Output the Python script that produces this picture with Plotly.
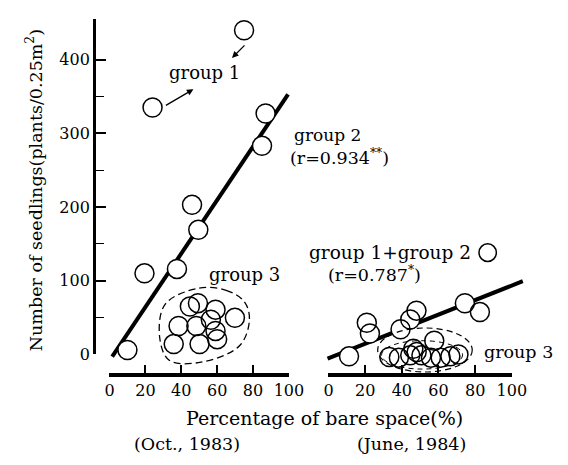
import plotly.graph_objects as go

W, H = 568, 465
FONT = "DejaVu Serif"

# ---------------- data ----------------
# Oct. 1983 (left panel)
g1_x = [75, 24]
g1_y = [440, 335]
g2_x = [87, 85, 46, 49.5, 37.6, 19.5, 10]
g2_y = [327, 283, 203, 169, 116, 110, 6]
g3_x = [44.8, 49.3, 59.1, 69.9, 38.5, 48.4, 56.5, 59.1, 35.8, 50.2, 60.0]
g3_y = [65, 69.5, 60.7, 49.6, 38.5, 38.5, 47, 31.9, 14, 14, 20.7]
fit83_x = [1.5, 99.5]
fit83_y = [-3, 353]

# June 1984 (right panel)
g12_84_x = [11.2, 20.9, 22.6, 39.3, 44.6, 48.0, 74.4, 82.6]
g12_84_y = [8, 53.5, 38.9, 44.8, 58, 70, 80, 68]
g3_84_x = [33.2, 38.4, 44.6, 46.3, 48.1, 50.7, 55.9, 57.7, 61.2, 66.5, 70.9]
g3_84_y = [7, 6.2, 9.3, 18.2, 13.7, 9.3, 6.2, 29.2, 6.2, 8, 10.6]
fit84_x = [-0.5, 106]
fit84_y = [5, 110]

x_ticks = [0, 20, 40, 60, 80, 100]
y_ticks = [0, 100, 200, 300, 400]

# ---------------- geometry helpers ----------------
def px(x):
    return x / W

def py(y):
    return 1 - y / H

# left panel scale
LX0, LXS = 100, 1.86      # px of x=0, px per unit
LY0, LYS = 354, 0.753     # px of y=0, px per unit
# right panel scale
RX0, RXS = 327, 1.9
RY0, RYS = 362, 0.753

fig = go.Figure()

def add_points(xs, ys, xa, ya):
    # white disc to mask the regression line, then outline on top
    fig.add_trace(go.Scatter(x=xs, y=ys, xaxis=xa, yaxis=ya, mode="markers",
                             marker=dict(size=19, color="white", line=dict(width=0)),
                             hoverinfo="skip", showlegend=False, cliponaxis=False))

def add_outlines(xs, ys, xa, ya):
    fig.add_trace(go.Scatter(x=xs, y=ys, xaxis=xa, yaxis=ya, mode="markers",
                             marker=dict(size=19, symbol="circle-open", color="black",
                                         line=dict(width=1.5, color="black")),
                             hoverinfo="skip", showlegend=False, cliponaxis=False))

# left panel
fig.add_trace(go.Scatter(x=fit83_x, y=fit83_y, xaxis="x", yaxis="y", mode="lines",
                         line=dict(color="black", width=4), hoverinfo="skip", showlegend=False))
# group 3 dashed outline
out_x = [50, 65, 75, 78, 72.6, 51, 33.3, 28, 31, 50]
out_y = [90, 87, 72, 48, 12, -10.6, -8, 22.6, 68, 90]
fig.add_trace(go.Scatter(x=out_x, y=out_y, xaxis="x", yaxis="y", mode="lines",
                         line=dict(color="black", width=1.3, dash="7px,4px", shape="spline", smoothing=1.0),
                         hoverinfo="skip", showlegend=False))
lx = g1_x + g2_x + g3_x
ly = g1_y + g2_y + g3_y
add_points(lx, ly, "x", "y")
add_outlines(lx, ly, "x", "y")

# right panel
fig.add_trace(go.Scatter(x=fit84_x, y=fit84_y, xaxis="x2", yaxis="y2", mode="lines",
                         line=dict(color="black", width=4), hoverinfo="skip", showlegend=False))
rx = g12_84_x + g3_84_x
ry = g12_84_y + g3_84_y
add_points(rx, ry, "x2", "y2")
add_outlines(rx, ry, "x2", "y2")

# dummy traces for display axes
fig.add_trace(go.Scatter(x=[50], y=[50], xaxis="x3", yaxis="y3", mode="markers",
                         marker=dict(opacity=0), hoverinfo="skip", showlegend=False))
fig.add_trace(go.Scatter(x=[50], y=[50], xaxis="x4", yaxis="y4", mode="markers",
                         marker=dict(opacity=0), hoverinfo="skip", showlegend=False))

tickfont = dict(family=FONT, size=16, color="black")

fig.update_layout(
    width=W, height=H,
    margin=dict(l=0, r=0, t=0, b=0),
    paper_bgcolor="white", plot_bgcolor="rgba(0,0,0,0)",
    showlegend=False,
    # data axes (hidden)
    xaxis=dict(domain=[px(30), px(305)], range=[(30 - LX0) / LXS, (305 - LX0) / LXS],
               visible=False, anchor="y"),
    yaxis=dict(domain=[py(430), py(0)], range=[(LY0 - 430) / LYS, LY0 / LYS],
               visible=False, anchor="x"),
    xaxis2=dict(domain=[px(305), px(568)], range=[(305 - RX0) / RXS, (568 - RX0) / RXS],
                visible=False, anchor="y2"),
    yaxis2=dict(domain=[py(430), py(0)], range=[(RY0 - 430) / RYS, RY0 / RYS],
                visible=False, anchor="x2"),
    # display axes
    xaxis3=dict(domain=[px(100), px(286)], range=[0, 100], anchor="free", position=py(375),
                tickvals=x_ticks, ticks="inside", ticklen=8, tickwidth=1.5, tickcolor="black",
                showline=True, linewidth=4, linecolor="black", showgrid=False, zeroline=False,
                tickfont=tickfont),
    yaxis3=dict(domain=[py(354), py(11)], range=[0, (354 - 11) / LYS], anchor="free", position=px(84),
                tickvals=y_ticks, ticks="inside", ticklen=10, tickwidth=1.5, tickcolor="black",
                minor=dict(tickvals=[50, 150, 250, 350], ticks="inside", ticklen=8, tickwidth=1.3,
                           tickcolor="black"),
                showline=True, linewidth=3, linecolor="black", showgrid=False, zeroline=False,
                tickfont=tickfont),
    xaxis4=dict(domain=[px(327), px(517)], range=[0, 100], anchor="free", position=py(375),
                tickvals=x_ticks, ticks="inside", ticklen=8, tickwidth=1.5, tickcolor="black",
                showline=True, linewidth=4, linecolor="black", showgrid=False, zeroline=False,
                tickfont=tickfont),
    yaxis4=dict(domain=[py(354), py(12)], range=[0, 100], anchor="x4", visible=False),
)

# right-panel dashed ellipses
fig.add_shape(type="circle", xref="x2", yref="y2",
              x0=(378 - RX0) / RXS, x1=(476 - RX0) / RXS,
              y0=(RY0 - 372) / RYS, y1=(RY0 - 327) / RYS,
              line=dict(color="black", width=1.2, dash="6px,4px"))
fig.add_shape(type="circle", xref="x2", yref="y2",
              x0=(382 - RX0) / RXS, x1=(466 - RX0) / RXS,
              y0=(RY0 - 369) / RYS, y1=(RY0 - 340) / RYS,
              line=dict(color="black", width=1.0, dash="5px,4px"))
# symbol next to "group 1+group 2"
fig.add_shape(type="circle", xref="paper", yref="paper",
              x0=px(483), x1=px(501), y0=py(259), y1=py(241),
              line=dict(color="black", width=1.5))

def txt(s, x, y, size=17, xanchor="center", **kw):
    fig.add_annotation(text=s, x=px(x), y=py(y), xref="paper", yref="paper",
                       showarrow=False, xanchor=xanchor, yanchor="middle",
                       font=dict(family=FONT, size=size, color="black"), **kw)

txt("group 1", 199, 66, size=18)
txt("group 2", 289, 130, xanchor="left")
txt("(r=0.934<sup>**</sup>)", 285, 152, xanchor="left", size=17.5)
txt("group 3", 240, 272, size=18)
txt("group 1+group 2", 305, 250, xanchor="left", size=18.5)
txt("(r=0.787<sup>*</sup>)", 324, 272, xanchor="left", size=17.5)
txt("group 3", 486, 352, xanchor="left", size=17.5)
txt("Percentage of bare space(%)", 323, 419, size=19)
txt("(Oct., 1983)", 180, 446, size=17.5)
txt("(June, 1984)", 413, 446, size=17.5)
txt("Number of seedlings(plants/0.25m<sup>2</sup>)", 22, 186, size=17.5, textangle=-90)

# arrows pointing to group 1
fig.add_annotation(x=px(227), y=py(51), xref="paper", yref="paper", text="", showarrow=True,
                   ax=14, ay=-14, arrowhead=2, arrowsize=1, arrowwidth=1.3, arrowcolor="black")
fig.add_annotation(x=px(187), y=py(83), xref="paper", yref="paper", text="", showarrow=True,
                   ax=-29, ay=17, arrowhead=2, arrowsize=1, arrowwidth=1.3, arrowcolor="black")

fig.write_html("out.html")
